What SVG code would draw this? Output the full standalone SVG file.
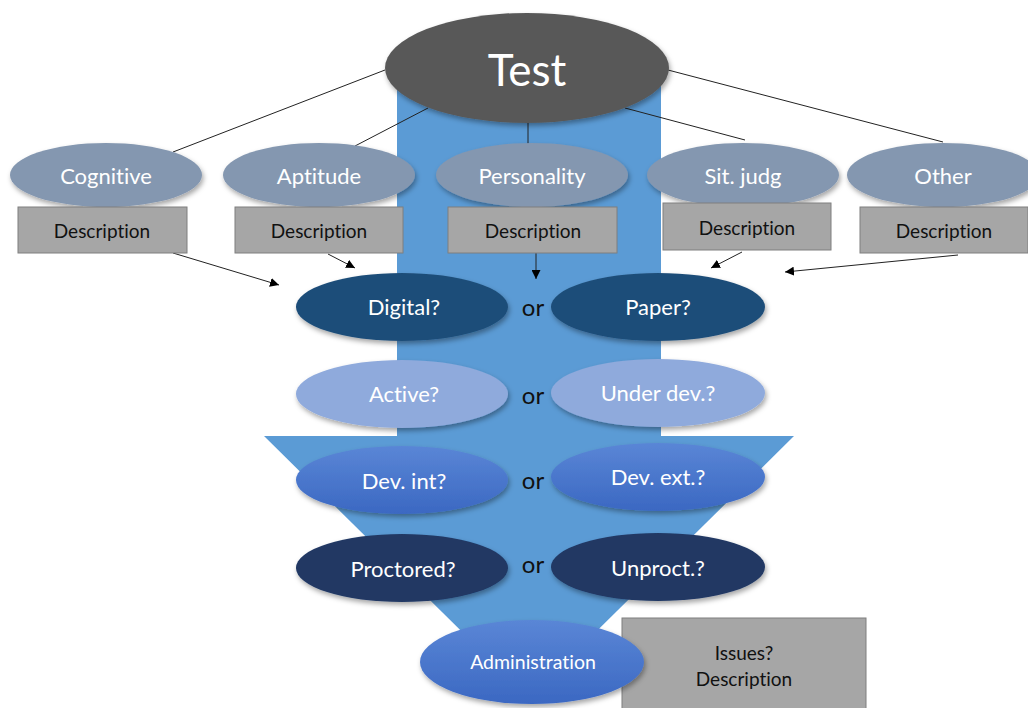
<svg xmlns="http://www.w3.org/2000/svg" width="1028" height="708" viewBox="0 0 1028 708">
<defs>
  <filter id="sh" x="-10%" y="-10%" width="125%" height="135%">
    <feDropShadow dx="1.5" dy="3" stdDeviation="2.5" flood-color="#000" flood-opacity="0.35"/>
  </filter>
  <linearGradient id="gDev" x1="0" y1="0" x2="0" y2="1">
    <stop offset="0" stop-color="#5A86D6"/>
    <stop offset="1" stop-color="#3B68C2"/>
  </linearGradient>
  <marker id="ah" viewBox="0 0 10 10" refX="10" refY="5" markerWidth="9" markerHeight="9" markerUnits="userSpaceOnUse" orient="auto">
    <path d="M0,0 L10,5 L0,10 z" fill="#000"/>
  </marker>
  <style>
    text { font-family: Lato, "Open Sans", "Liberation Sans", sans-serif; text-anchor: middle; dominant-baseline: central; font-variant-ligatures: none; }
    .w { fill: #fff; font-size: 22px; }
    .d { fill: #111; font-size: 19px; }
    .or { fill: #111; font-size: 24px; }
    .cat { fill: #8497B0; filter: url(#sh); }
    .box { fill: #A6A6A6; stroke: #7F7F7F; stroke-width: 1; }
    .ln { stroke: #222; stroke-width: 1; fill: none; }
    .ar { stroke: #222; stroke-width: 1; fill: none; marker-end: url(#ah); }
  </style>
</defs>
<rect width="1028" height="708" fill="#fff"/>

<g id="big-arrow">
  <path d="M397,60 L661,60 L661,436 L794,436 L529,698 L264,436 L397,436 Z" fill="#5B9BD5"/>
</g>

<g id="connectors">
  <line class="ln" x1="385" y1="70" x2="173" y2="152"/>
  <line class="ln" x1="428" y1="108" x2="355" y2="146"/>
  <line class="ln" x1="528" y1="122" x2="528" y2="145"/>
  <line class="ln" x1="625" y1="108" x2="745" y2="140"/>
  <line class="ln" x1="668" y1="70" x2="943" y2="142"/>
  <line class="ar" x1="173" y1="253" x2="279" y2="285"/>
  <line class="ar" x1="328" y1="254" x2="355" y2="268"/>
  <line class="ar" x1="536" y1="253" x2="536" y2="279"/>
  <line class="ar" x1="742" y1="252" x2="711" y2="268"/>
  <line class="ar" x1="958" y1="255" x2="785" y2="272"/>
</g>

<g id="test">
  <ellipse cx="527" cy="68" rx="142" ry="55" fill="#595959" filter="url(#sh)"/>
  <text x="527" y="69" fill="#fff" font-size="44">Test</text>
</g>

<g id="cognitive">
  <ellipse class="cat" cx="106" cy="175" rx="96" ry="32"/>
  <text class="w" x="106" y="175">Cognitive</text>
  <rect class="box" x="18" y="207" width="169" height="46"/>
  <text class="d" x="102" y="230">Description</text>
</g>
<g id="aptitude">
  <ellipse class="cat" cx="319" cy="175" rx="96" ry="32"/>
  <text class="w" x="319" y="175">Aptitude</text>
  <rect class="box" x="235" y="207" width="168" height="46"/>
  <text class="d" x="319" y="230">Description</text>
</g>
<g id="personality">
  <ellipse class="cat" cx="532" cy="175" rx="96" ry="32"/>
  <text class="w" x="532" y="175">Personality</text>
  <rect class="box" x="448" y="207" width="169" height="46"/>
  <text class="d" x="533" y="230">Description</text>
</g>
<g id="sitjudg">
  <ellipse class="cat" cx="743" cy="175" rx="96" ry="32"/>
  <text class="w" x="743" y="175">Sit. judg</text>
  <rect class="box" x="663" y="203" width="168" height="47"/>
  <text class="d" x="747" y="227">Description</text>
</g>
<g id="other">
  <ellipse class="cat" cx="943" cy="175" rx="96" ry="32"/>
  <text class="w" x="943" y="175">Other</text>
  <rect class="box" x="860" y="207" width="168" height="46"/>
  <text class="d" x="944" y="230">Description</text>
</g>

<g id="digital">
  <ellipse cx="402" cy="307" rx="106" ry="34" fill="#1F4E79" filter="url(#sh)"/>
  <text class="w" x="404" y="306">Digital?</text>
</g>
<g id="paper">
  <ellipse cx="658" cy="307" rx="107" ry="34" fill="#1F4E79" filter="url(#sh)"/>
  <text class="w" x="658" y="306">Paper?</text>
</g>
<text class="or" x="533" y="306">or</text>

<g id="active">
  <ellipse cx="402" cy="394" rx="106" ry="34" fill="#8FAADC" filter="url(#sh)"/>
  <text class="w" x="404" y="393">Active?</text>
</g>
<g id="underdev">
  <ellipse cx="658" cy="393" rx="107" ry="34" fill="#8FAADC" filter="url(#sh)"/>
  <text class="w" x="658" y="392">Under dev.?</text>
</g>
<text class="or" x="533" y="394">or</text>

<g id="devint">
  <ellipse cx="402" cy="480" rx="106" ry="34" fill="url(#gDev)" filter="url(#sh)"/>
  <text class="w" x="404" y="480">Dev. int?</text>
</g>
<g id="devext">
  <ellipse cx="658" cy="477" rx="107" ry="34" fill="url(#gDev)" filter="url(#sh)"/>
  <text class="w" x="658" y="476">Dev. ext.?</text>
</g>
<text class="or" x="533" y="479">or</text>

<g id="proctored">
  <ellipse cx="402" cy="568" rx="106" ry="34" fill="#203864" filter="url(#sh)"/>
  <text class="w" x="403" y="568">Proctored?</text>
</g>
<g id="unproct">
  <ellipse cx="658" cy="567" rx="107" ry="34" fill="#203864" filter="url(#sh)"/>
  <text class="w" x="658" y="567">Unproct.?</text>
</g>
<text class="or" x="533" y="563">or</text>

<g id="issues">
  <rect class="box" x="622" y="618" width="244" height="95"/>
  <text class="d" x="744" y="652">Issues?</text>
  <text class="d" x="744" y="678">Description</text>
</g>
<g id="administration">
  <ellipse cx="532" cy="662" rx="112" ry="42" fill="url(#gDev)" filter="url(#sh)"/>
  <text x="533" y="661" fill="#fff" font-size="19.5">Administration</text>
</g>
</svg>
